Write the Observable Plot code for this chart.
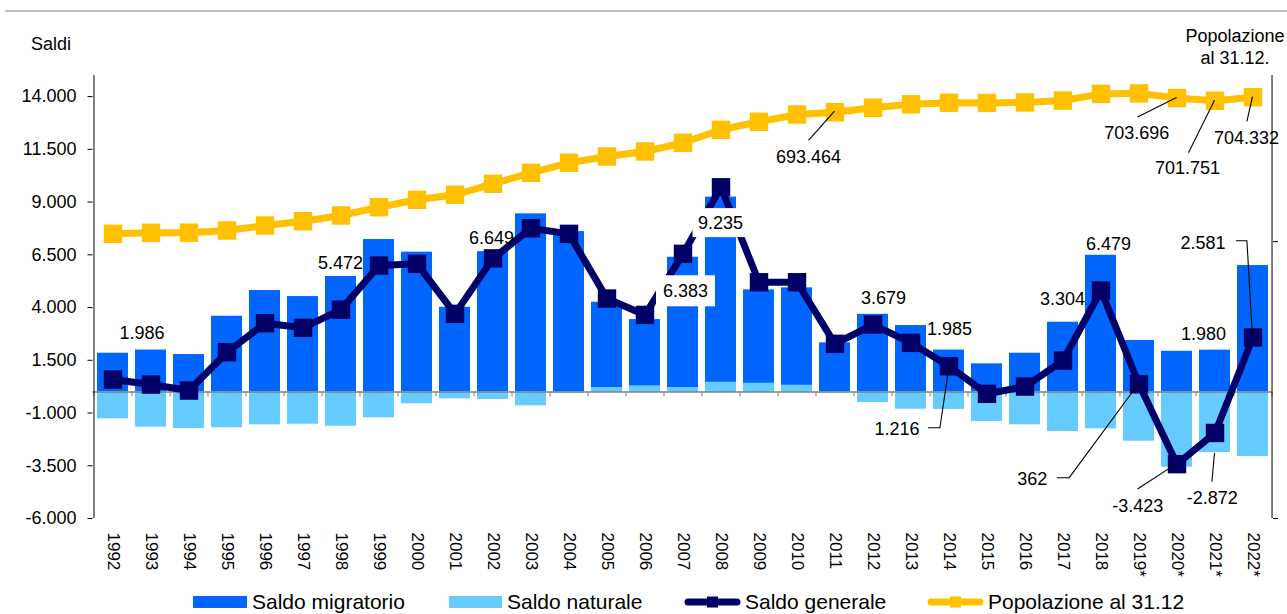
<!DOCTYPE html>
<html><head><meta charset="utf-8">
<script src="https://cdn.jsdelivr.net/npm/d3@7"></script>
<script src="https://cdn.jsdelivr.net/npm/@observablehq/plot@0.6"></script>
<style>
body{margin:0;background:#fff;font-family:Arial,"Liberation Sans",sans-serif;color:#000;}
#wrap{position:relative;width:1287px;height:614px;overflow:hidden;}
#chart{position:absolute;left:0;top:0;}
#topline{position:absolute;left:5px;top:10px;width:1282px;height:2px;background:#c0c0c0;}
#saldi{position:absolute;left:31px;top:34px;font-size:18px;line-height:21px;}
#popt{position:absolute;left:1175px;width:120px;top:26px;font-size:18px;line-height:21.5px;text-align:center;}
.lg{position:absolute;top:590px;height:24px;display:flex;align-items:center;font-size:21px;white-space:nowrap;}
.sw{display:inline-block;height:12px;margin-right:5px;}
</style></head><body>
<div id="wrap">
  <div id="chart"></div>
  <div id="topline"></div>
  <div id="saldi">Saldi</div>
  <div id="popt">Popolazione<br>al 31.12.</div>
  <div class="lg" style="left:193px"><span class="sw" style="width:54px;background:#0066FF"></span>Saldo migratorio</div>
  <div class="lg" style="left:449px"><span class="sw" style="width:53px;background:#66CCFF"></span>Saldo naturale</div>
  <div class="lg" style="left:684px"><svg width="57" height="14" style="margin-right:4px"><line x1="4" x2="53" y1="7" y2="7" stroke="#000066" stroke-width="7" stroke-linecap="round"/><rect x="23" y="1.5" width="11" height="11" fill="#000066"/></svg>Saldo generale</div>
  <div class="lg" style="left:927px"><svg width="57" height="14" style="margin-right:4px"><line x1="4" x2="53" y1="7" y2="7" stroke="#FFC000" stroke-width="7" stroke-linecap="round"/><rect x="23" y="1.5" width="11" height="11" fill="#FFC000"/></svg>Popolazione al 31.12</div>
</div>
<script>
// ---- data ----
const years = ["1992","1993","1994","1995","1996","1997","1998","1999","2000","2001","2002","2003","2004","2005","2006","2007","2008","2009","2010","2011","2012","2013","2014","2015","2016","2017","2018","2019*","2020*","2021*","2022*"];
const migratorio = [1834,1986,1772,3588,4806,4521,5472,7223,6626,4014,6649,8441,7602,4251,3431,6383,9235,4839,4934,2327,3679,3147,1985,1332,1834,3304,6479,2436,1929,1980,5991];
const naturale = [-1275,-1673,-1735,-1701,-1559,-1531,-1626,-1228,-564,-327,-360,-659,-60,209,289,209,460,412,318,-50,-502,-820,-830,-1403,-1559,-1877,-1749,-2336,-3569,-2872,-3062];
const generale = [588,350,66,1882,3256,3038,3900,5991,6071,3701,6330,7758,7493,4426,3650,6545,9700,5199,5199,2280,3194,2327,1216,-90,256,1488,4806,362,-3423,-1945,2581];
const popolazione = [605650,606380,606450,608040,611650,614760,618870,624870,630210,633830,641770,649720,656940,661490,665100,671390,680780,686560,691830,693464,696700,699200,700300,700200,700500,701900,706700,707100,703696,701751,704332];
const yTickValues = [-6000,-3500,-1000,1500,4000,6500,9000,11500,14000];
const popAxisDomain = [400000,720000];
const popTickValues = [400000,600000];
const leftDomain = [-6000,15000];

// ---- layout ----
const W=1287, H=590, ML=92.5, MR=15, MT=75, MB=72;
const step=(W-ML-MR)/years.length;
const fmt = d3.formatLocale({decimal:",", thousands:".", grouping:[3], currency:["","€"], minus:"-"}).format(",d");
const popToY = p => leftDomain[0] + (p-popAxisDomain[0])*(leftDomain[1]-leftDomain[0])/(popAxisDomain[1]-popAxisDomain[0]);
const pxToY = px => px*(leftDomain[1]-leftDomain[0])/(H-MT-MB);
const data = years.map((year,i)=>({year, mig:migratorio[i], nat:naturale[i], gen:generale[i], pop:popolazione[i], popY:popToY(popolazione[i])}));
const last = years[years.length-1];

const plot = Plot.plot({
  width:W, height:H, marginLeft:ML, marginRight:MR, marginTop:MT, marginBottom:MB,
  style:{fontFamily:'Arial, "Liberation Sans", sans-serif', fontSize:"18px", color:"#000", background:"#fff", overflow:"visible"},
  x:{type:"band", domain:years, paddingInner:0.18, paddingOuter:0.09, label:null},
  y:{domain:leftDomain, label:null},
  marks:[
    Plot.barY(data,{x:"year", y1:0, y2:"mig", fill:"#0066FF"}),
    Plot.barY(data,{x:"year", y1:0, y2:"nat", fill:"#66CCFF"}),
    Plot.ruleY([0],{stroke:"#7f7f7f", strokeWidth:1.5}),
    Plot.ruleX(years,{x:d=>d, y1:0, y2:-pxToY(5), dx:-step/2, stroke:"#7f7f7f"}),
    Plot.ruleX([last],{x:d=>d, y1:0, y2:-pxToY(5), dx:step/2, stroke:"#7f7f7f"}),
    Plot.ruleX([years[0]],{x:d=>d, y1:leftDomain[0], y2:leftDomain[1], dx:-step/2, stroke:"#000"}),
    Plot.ruleX([last],{x:d=>d, y1:leftDomain[0], y2:leftDomain[1], dx:step/2, stroke:"#000"}),
    Plot.axisY({ticks:yTickValues, tickFormat:fmt, tickSize:5, tickPadding:11.5, fontSize:18, label:null}),
    Plot.axisY({anchor:"right", ticks:popTickValues.map(popToY), tickFormat:()=> "", tickSize:5, label:null}),
    Plot.axisX({anchor:"bottom", tickSize:0, tickPadding:14, tickRotate:90, fontSize:17, label:null}),
    Plot.line(data,{x:"year", y:"popY", stroke:"#FFC000", strokeWidth:7}),
    Plot.dot(data,{x:"year", y:"popY", symbol:"square", r:10.4, fill:"#FFC000"}),
    Plot.line(data,{x:"year", y:"gen", stroke:"#000066", strokeWidth:7}),
    Plot.dot(data,{x:"year", y:"gen", symbol:"square", r:10.4, fill:"#000066"})
  ]
});
document.getElementById("chart").appendChild(plot);

// ---- annotations (label layout) ----
const annotations = [
  {s:"mig", year:"1993", dx:-8.6, dy:-16.5},
  {s:"mig", year:"1998", dx:0, dy:-13},
  {s:"mig", year:"2002", dx:-1, dy:-14},
  {s:"mig", year:"2007", dx:3, dy:34, box:[59,31]},
  {s:"mig", year:"2008", dx:0, dy:26, box:[56,29]},
  {s:"mig", year:"2012", dx:11, dy:-16},
  {s:"mig", year:"2014", dx:1, dy:-21},
  {s:"mig", year:"2017", dx:0, dy:-23},
  {s:"mig", year:"2018", dx:8, dy:-10.7},
  {s:"mig", year:"2021*", dx:-11, dy:-15.6},
  {s:"gen", year:"2014", dx:-51.6, dy:62.6, lead:[[-20.6,62],[-8.6,62],[0.7,-0.7]]},
  {s:"gen", year:"2019*", dx:-106.3, dy:95.2, lead:[[-81.6,93.9],[-69.3,93.9],[0,0]]},
  {s:"gen", year:"2020*", dx:-38.8, dy:42, lead:[[-39,25.4],[0,0]]},
  {s:"nat", year:"2021*", dx:-2.3, dy:46, lead:[[-2.6,29.7],[0,1]]},
  {s:"gen", year:"2022*", dx:-49.6, dy:-94.6, lead:[[-16.6,-96.2],[-5.6,-96.2],[0,0]]},
  {s:"pop", year:"2011", dx:-26, dy:45, lead:[[-26,28.6],[0,-0.7]]},
  {s:"pop", year:"2020*", dx:-39.8, dy:35, lead:[[-39,19.4],[0,0]]},
  {s:"pop", year:"2021*", dx:-27, dy:67.4, lead:[[-26,52.4],[0,0]]},
  {s:"pop", year:"2022*", dx:-6, dy:40.6, lead:[[-5.6,24.6],[0,0]]}
];
const xs = plot.scale("x"), ys = plot.scale("y");
const svg = d3.select(plot);
const g = svg.append("g").attr("font-family",'Arial, "Liberation Sans", sans-serif').attr("font-size",18);
const items = annotations.map(a=>{
  const d = data.find(e=>e.year===a.year);
  const v = d[a.s];
  const ax = xs.apply(a.year) + xs.bandwidth/2;
  const ay = ys.apply(a.s==="pop" ? popToY(v) : v);
  return {...a, v, ax, ay};
});
items.filter(a=>a.lead).forEach(a=>{
  g.append("path").attr("d", d3.line()(a.lead.map(([px,py])=>[a.ax+px, a.ay+py])))
   .attr("fill","none").attr("stroke","#000").attr("stroke-width",1.1);
});
items.forEach(a=>{
  const cx=a.ax+a.dx, cy=a.ay+a.dy;
  if(a.box) g.append("rect").attr("x",cx-a.box[0]/2).attr("y",cy-a.box[1]/2).attr("width",a.box[0]).attr("height",a.box[1]).attr("fill","#fff");
  g.append("text").attr("x",cx).attr("y",cy+6.4).attr("text-anchor","middle").attr("fill","#000").text(fmt(a.v));
});
</script>
</body></html>
